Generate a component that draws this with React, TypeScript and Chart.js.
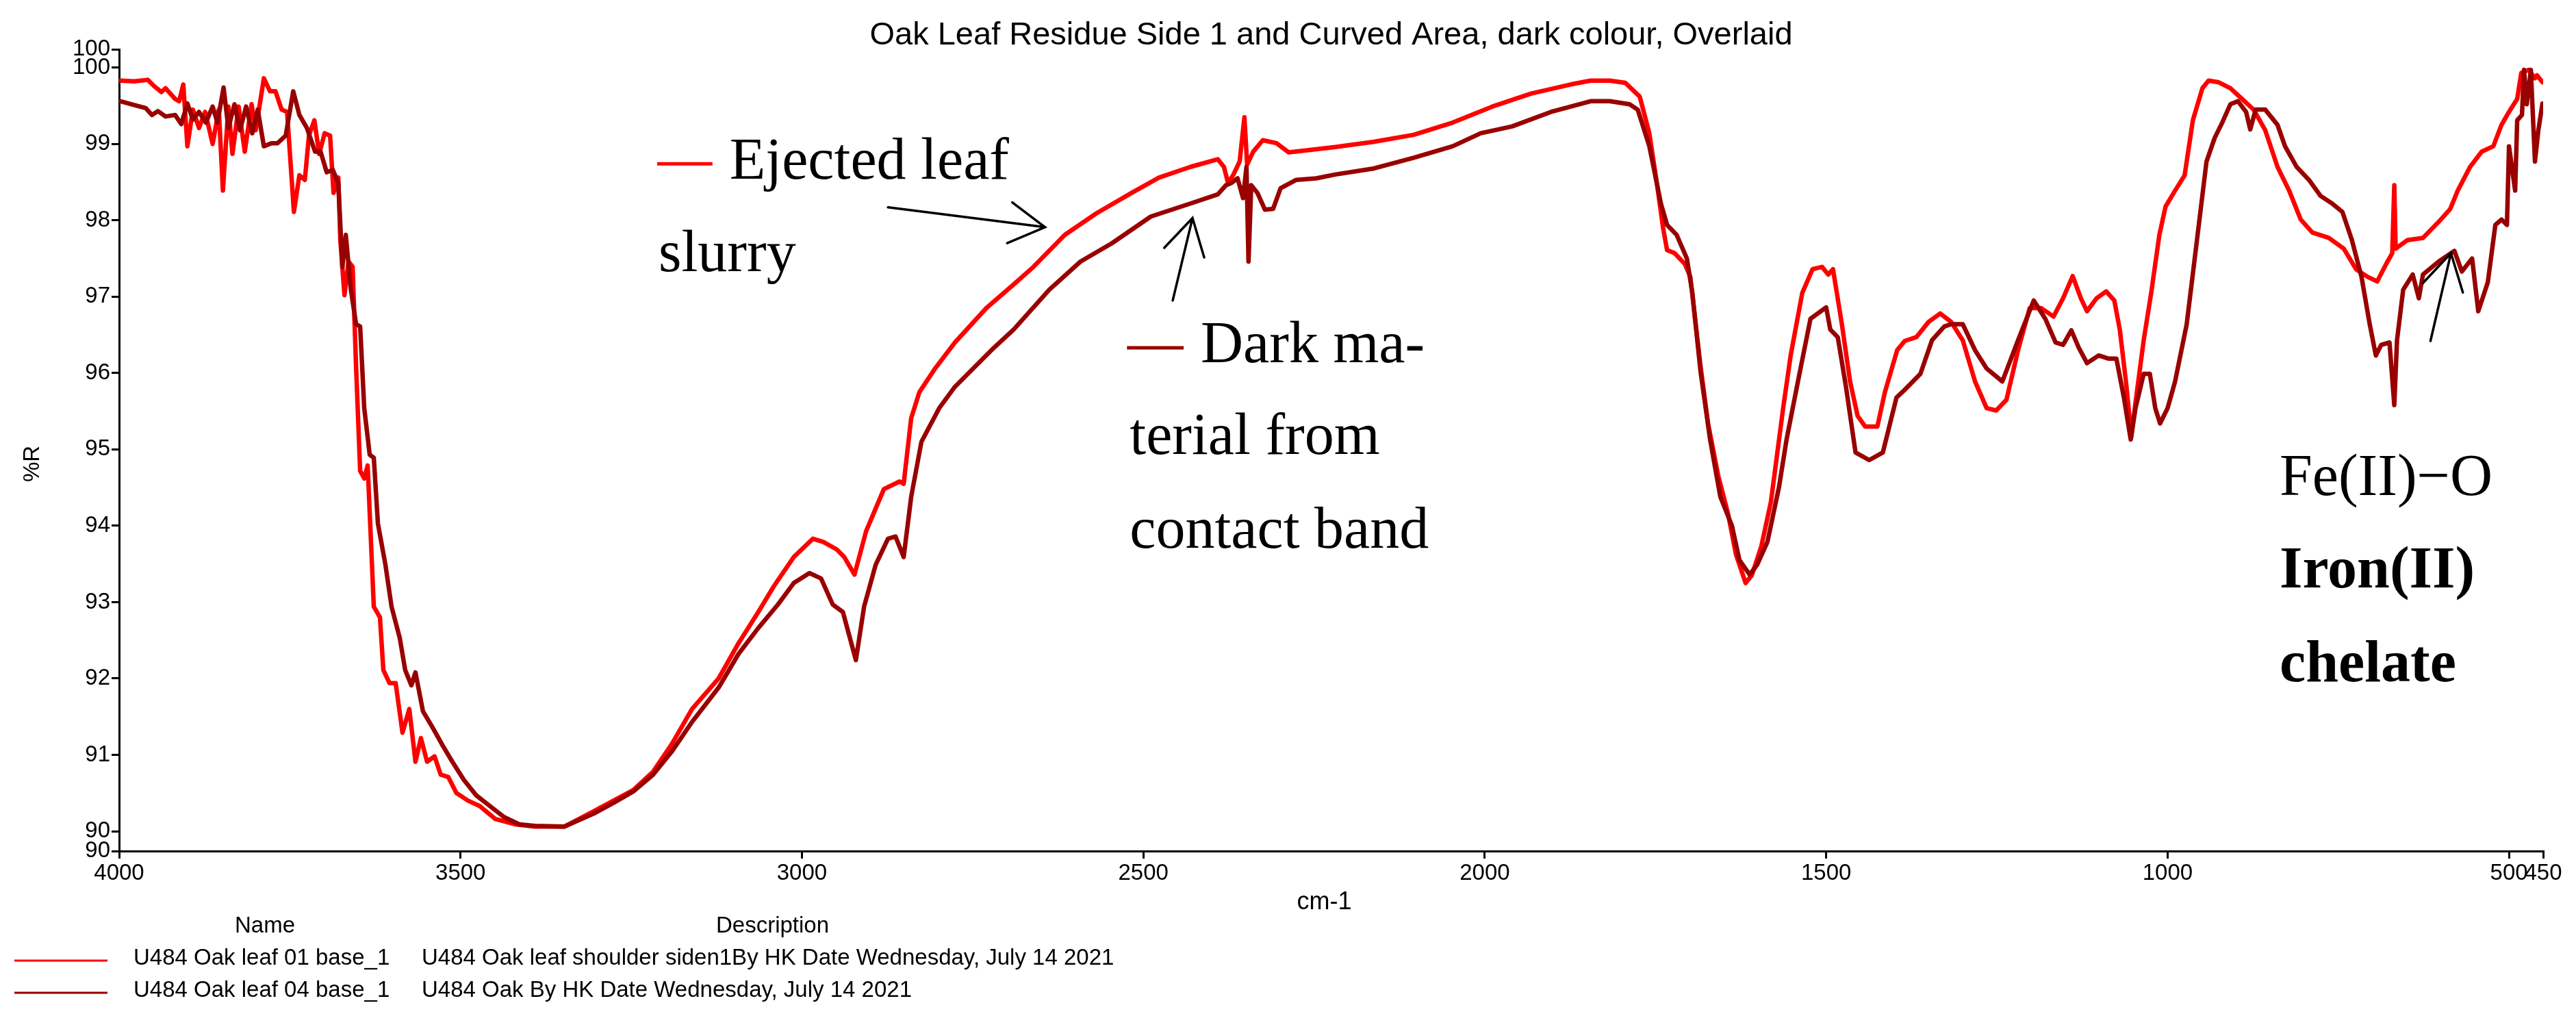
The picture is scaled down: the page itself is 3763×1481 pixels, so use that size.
import React, { useEffect, useRef } from "react";
import { Chart, registerables } from "chart.js";

Chart.register(...registerables);

const chartTitle = "Oak Leaf Residue Side 1 and Curved Area, dark colour, Overlaid";
const xAxisTitle = "cm-1";
const yAxisTitle = "%R";

const xTickValues = [4000, 3500, 3000, 2500, 2000, 1500, 1000, 500, 450];
const yTickValues = [89.74, 90, 91, 92, 93, 94, 95, 96, 97, 98, 99, 100, 100.24];
const yTickLabels = ["90", "90", "91", "92", "93", "94", "95", "96", "97", "98", "99", "100", "100"];

const legendNames = ["U484 Oak leaf 01 base_1", "U484 Oak leaf 04 base_1"];
const legendDescriptions = [
  "U484 Oak leaf shoulder siden1By HK Date Wednesday, July 14 2021",
  "U484 Oak By HK Date Wednesday, July 14 2021",
];
const seriesColors = ["#ff0000", "#990000"];

// Series 1: Ejected leaf slurry (red)
const redWn = [
  3998, 3978, 3958, 3949, 3938, 3932, 3918, 3912, 3906, 3900, 3892, 3883, 3874, 3863, 3854, 3848, 3840, 3834, 3825, 3816,
  3806, 3800, 3788, 3779, 3771, 3762, 3754, 3744, 3736, 3728, 3722, 3714, 3707, 3699, 3691, 3686, 3679, 3676, 3670, 3664,
  3658, 3653, 3647, 3641, 3636, 3627, 3618, 3613, 3604, 3595, 3585, 3575, 3566, 3558, 3549, 3538, 3529, 3518, 3506, 3489,
  3472, 3449, 3420, 3391, 3348, 3305, 3276, 3247, 3218, 3190, 3161, 3122, 3093, 3064, 3041, 3012, 2984, 2969, 2949, 2938,
  2923, 2906, 2880, 2857, 2851, 2840, 2828, 2805, 2776, 2730, 2690, 2661, 2615, 2569, 2517, 2477, 2431, 2391, 2382, 2376,
  2368, 2359, 2352, 2348, 2339, 2325, 2305, 2287, 2258, 2219, 2162, 2104, 2047, 1989, 1932, 1874, 1845, 1817, 1794, 1773,
  1759, 1748, 1739, 1733, 1722, 1707, 1699, 1684, 1673, 1658, 1644, 1632, 1618, 1609, 1595, 1581, 1563, 1552, 1535, 1520,
  1506, 1497, 1490, 1477, 1465, 1454, 1443, 1425, 1414, 1396, 1385, 1368, 1350, 1333, 1317, 1300, 1282, 1265, 1251, 1236,
  1219, 1202, 1185, 1167, 1153, 1139, 1127, 1118, 1104, 1090, 1078, 1070, 1061, 1053, 1047, 1035, 1024, 1012, 1003, 989,
  975, 963, 949, 940, 926, 908, 891, 874, 857, 839, 822, 805, 788, 764, 742, 724, 707, 693, 678, 671,
  668, 666, 649, 626, 603, 586, 575, 557, 540, 523, 511, 500, 488, 482, 471, 462, 459, 451,
];
const redR = [
  99.83, 99.82, 99.84, 99.76, 99.68, 99.73, 99.59, 99.56, 99.78, 98.97, 99.45, 99.21, 99.42, 99.0, 99.45, 98.39, 99.49, 98.87, 99.49, 98.9,
  99.52, 99.18, 99.86, 99.69, 99.69, 99.45, 99.42, 98.11, 98.59, 98.53, 99.11, 99.31, 98.87, 99.14, 99.11, 98.36, 98.56, 97.74, 97.02, 97.46,
  97.39, 96.09, 94.72, 94.62, 94.79, 92.94, 92.8, 92.11, 91.94, 91.94, 91.29, 91.6, 90.91, 91.22, 90.91, 90.98, 90.74, 90.71, 90.5, 90.4,
  90.33, 90.16, 90.09, 90.06, 90.06, 90.26, 90.4, 90.54, 90.78, 91.15, 91.6, 92.0, 92.46, 92.87, 93.21, 93.59, 93.83, 93.79, 93.69, 93.59,
  93.36, 93.93, 94.48, 94.58, 94.55, 95.41, 95.75, 96.06, 96.4, 96.85, 97.16, 97.39, 97.81, 98.09, 98.36, 98.56, 98.7, 98.8, 98.7, 98.49,
  98.6, 98.77, 99.35, 98.73, 98.9, 99.05, 99.01, 98.89, 98.92, 98.96, 99.03, 99.12, 99.28, 99.49, 99.66, 99.78, 99.83, 99.83, 99.8, 99.62,
  99.14, 98.49, 97.91, 97.61, 97.57, 97.43, 97.26, 96.09, 95.34, 94.65, 94.17, 93.62, 93.25, 93.35, 93.73, 94.31, 95.54, 96.23, 97.05, 97.36,
  97.39, 97.29, 97.36, 96.64, 95.89, 95.44, 95.3, 95.3, 95.75, 96.3, 96.42, 96.47, 96.67, 96.78, 96.67, 96.43, 95.89, 95.54, 95.51, 95.65,
  96.3, 96.85, 96.85, 96.74, 96.98, 97.27, 96.98, 96.81, 96.98, 97.07, 96.95, 96.57, 95.89, 95.17, 95.61, 96.43, 97.05, 97.81, 98.18, 98.39,
  98.59, 99.31, 99.73, 99.83, 99.81, 99.73, 99.59, 99.45, 99.18, 98.7, 98.39, 98.01, 97.84, 97.77, 97.63, 97.36, 97.26, 97.2, 97.46, 97.57,
  98.46, 97.63, 97.74, 97.77, 97.98, 98.15, 98.39, 98.7, 98.9, 98.97, 99.25, 99.42, 99.59, 99.93, 99.97, 99.86, 99.9, 99.81,
];

// Series 2: Dark material from contact band (dark red)
const darkWn = [
  3998, 3978, 3961, 3952, 3943, 3932, 3918, 3909, 3900, 3892, 3883, 3873, 3863, 3856, 3847, 3840, 3831, 3823, 3814, 3805,
  3797, 3788, 3777, 3768, 3756, 3745, 3736, 3725, 3713, 3705, 3696, 3687, 3679, 3673, 3668, 3661, 3653, 3647, 3641, 3633,
  3627, 3621, 3610, 3601, 3589, 3581, 3572, 3566, 3555, 3541, 3526, 3512, 3495, 3477, 3457, 3437, 3414, 3391, 3348, 3305,
  3276, 3247, 3218, 3190, 3161, 3122, 3093, 3064, 3035, 3012, 2989, 2972, 2955, 2940, 2921, 2909, 2892, 2874, 2863, 2851,
  2840, 2825, 2799, 2776, 2719, 2690, 2638, 2592, 2546, 2489, 2431, 2391, 2379, 2371, 2362, 2354, 2349, 2346, 2342, 2333,
  2322, 2310, 2299, 2276, 2247, 2219, 2162, 2104, 2047, 2006, 1960, 1903, 1845, 1817, 1788, 1776, 1759, 1742, 1733, 1719,
  1704, 1696, 1684, 1670, 1655, 1638, 1627, 1612, 1601, 1586, 1569, 1558, 1540, 1523, 1500, 1494, 1483, 1471, 1457, 1437,
  1417, 1397, 1385, 1362, 1345, 1327, 1317, 1300, 1282, 1265, 1242, 1219, 1196, 1179, 1164, 1153, 1141, 1130, 1118, 1101,
  1087, 1075, 1064, 1054, 1047, 1035, 1026, 1018, 1011, 1000, 989, 972, 957, 943, 931, 920, 908, 897, 885, 879,
  871, 857, 839, 828, 811, 793, 776, 759, 744, 730, 716, 704, 695, 687, 675, 668, 664, 655, 641, 632,
  626, 603, 580, 569, 554, 545, 531, 520, 511, 503, 500, 491, 488, 481, 478, 474, 468, 462, 457, 451,
];
const darkR = [
  99.56, 99.51, 99.47, 99.38, 99.43, 99.36, 99.38, 99.26, 99.53, 99.32, 99.42, 99.28, 99.49, 99.28, 99.74, 99.21, 99.52, 99.18, 99.49, 99.14,
  99.45, 98.97, 99.01, 99.01, 99.11, 99.69, 99.38, 99.21, 98.9, 98.9, 98.63, 98.66, 98.49, 97.39, 97.81, 97.12, 96.64, 96.61, 95.54, 94.93,
  94.89, 94.03, 93.49, 92.94, 92.53, 92.11, 91.91, 92.08, 91.57, 91.36, 91.12, 90.91, 90.67, 90.47, 90.33, 90.19, 90.09, 90.07, 90.06, 90.23,
  90.37, 90.52, 90.74, 91.05, 91.43, 91.88, 92.32, 92.66, 92.97, 93.25, 93.38, 93.31, 92.97, 92.87, 92.24, 92.94, 93.49, 93.83, 93.86, 93.59,
  94.38, 95.1, 95.54, 95.82, 96.33, 96.57, 97.09, 97.46, 97.7, 98.05, 98.22, 98.34, 98.46, 98.49, 98.55, 98.29, 98.7, 97.46, 98.46, 98.36,
  98.14, 98.15, 98.42, 98.53, 98.55, 98.6, 98.68, 98.82, 98.97, 99.14, 99.23, 99.42, 99.56, 99.56, 99.52, 99.45, 98.97, 98.22, 97.94, 97.81,
  97.5, 97.05, 96.02, 95.13, 94.38, 94.0, 93.55, 93.36, 93.49, 93.79, 94.51, 95.13, 95.95, 96.71, 96.86, 96.57, 96.47, 95.82, 94.96, 94.86,
  94.96, 95.68, 95.78, 95.99, 96.43, 96.61, 96.64, 96.64, 96.3, 96.06, 95.89, 96.43, 96.95, 96.71, 96.4, 96.37, 96.56, 96.33, 96.13, 96.23,
  96.19, 96.19, 95.68, 95.13, 95.54, 95.99, 95.99, 95.54, 95.34, 95.54, 95.89, 96.64, 97.74, 98.77, 99.08, 99.28, 99.52, 99.56, 99.42, 99.19,
  99.45, 99.45, 99.25, 98.97, 98.7, 98.53, 98.32, 98.22, 98.11, 97.74, 97.26, 96.64, 96.23, 96.37, 96.4, 95.58, 96.43, 97.09, 97.29, 96.98,
  97.29, 97.46, 97.6, 97.33, 97.5, 96.81, 97.19, 97.94, 98.01, 97.94, 98.97, 98.39, 99.31, 99.38, 99.97, 99.52, 99.97, 98.77, 99.18, 99.53,
];

const SANS = '"Liberation Sans", Arial, Helvetica, sans-serif';
const SERIF = '"Liberation Serif", "Times New Roman", serif';

// annotation anchors in data units (wavenumber, %R)
const arrowSpecs = [
  { from: [2874, 98.17], to: [2644, 97.91] },
  { from: [2457, 96.95], to: [2428, 98.03] },
  { from: [615, 96.42], to: [585, 97.57] },
];
const annotationTexts = [
  { text: "Ejected leaf", x: 3106, y: 98.543, bold: false },
  { text: "slurry", x: 3210, y: 97.333, bold: false },
  { text: "Dark ma-", x: 2416, y: 96.142, bold: false },
  { text: "terial from", x: 2520, y: 94.941, bold: false },
  { text: "contact band", x: 2520, y: 93.713, bold: false },
  { text: "Fe(II)\u2212O", x: 836, y: 94.403, bold: false },
  { text: "Iron(II)", x: 836, y: 93.194, bold: true },
  { text: "chelate", x: 836, y: 91.966, bold: true },
];
const annotationDashes = [
  { x1: 3212, x2: 3131, y: 98.74, color: 0 },
  { x1: 2524, x2: 2441, y: 96.33, color: 1 },
];

const overlayPlugin = {
  id: "overlay",
  afterDraw(chart: any) {
    const ctx = chart.ctx as CanvasRenderingContext2D;
    const xs = chart.scales.x;
    const ys = chart.scales.y;
    const area = chart.chartArea;
    ctx.save();
    ctx.fillStyle = "#000";
    // title
    ctx.font = `47px ${SANS}`;
    ctx.textAlign = "center";
    ctx.textBaseline = "alphabetic";
    ctx.fillText(chartTitle, (area.left + area.right) / 2, 65);
    // x axis title
    ctx.font = `36px ${SANS}`;
    ctx.fillText(xAxisTitle, (area.left + area.right) / 2 - 10, 1328);
    // y axis title
    ctx.save();
    ctx.translate(48, (area.top + area.bottom) / 2 + 20);
    ctx.rotate(-Math.PI / 2);
    ctx.textBaseline = "middle";
    ctx.font = `33px ${SANS}`;
    ctx.fillText(yAxisTitle, 0, 0);
    ctx.restore();

    // legend table
    ctx.font = `33px ${SANS}`;
    ctx.textAlign = "left";
    ctx.fillText("Name", 343, 1362);
    ctx.fillText("Description", 1046, 1362);
    for (let i = 0; i < legendNames.length; i++) {
      const yLine = 1403 + i * 47;
      ctx.strokeStyle = seriesColors[i];
      ctx.lineWidth = 3;
      ctx.beginPath();
      ctx.moveTo(21, yLine);
      ctx.lineTo(157, yLine);
      ctx.stroke();
      ctx.fillStyle = "#000";
      ctx.fillText(legendNames[i], 195, yLine + 6);
      ctx.fillText(legendDescriptions[i], 616, yLine + 6);
    }

    // annotation dashes
    for (const d of annotationDashes) {
      ctx.strokeStyle = seriesColors[d.color];
      ctx.lineWidth = 5;
      ctx.beginPath();
      ctx.moveTo(xs.getPixelForValue(d.x1), ys.getPixelForValue(d.y));
      ctx.lineTo(xs.getPixelForValue(d.x2), ys.getPixelForValue(d.y));
      ctx.stroke();
    }
    // annotation texts
    ctx.fillStyle = "#000";
    ctx.textAlign = "left";
    ctx.textBaseline = "alphabetic";
    for (const t of annotationTexts) {
      ctx.font = `${t.bold ? "bold " : ""}86px ${SERIF}`;
      ctx.fillText(t.text, xs.getPixelForValue(t.x), ys.getPixelForValue(t.y));
    }
    // arrows
    ctx.strokeStyle = "#000";
    ctx.lineWidth = 3.5;
    ctx.lineCap = "round";
    for (const a of arrowSpecs) {
      const x1 = xs.getPixelForValue(a.from[0]);
      const y1 = ys.getPixelForValue(a.from[1]);
      const x2 = xs.getPixelForValue(a.to[0]);
      const y2 = ys.getPixelForValue(a.to[1]);
      const ang = Math.atan2(y2 - y1, x2 - x1);
      const L = 60;
      const h = Math.PI / 6;
      ctx.beginPath();
      ctx.moveTo(x1, y1);
      ctx.lineTo(x2, y2);
      ctx.moveTo(x2 - L * Math.cos(ang - h), y2 - L * Math.sin(ang - h));
      ctx.lineTo(x2, y2);
      ctx.lineTo(x2 - L * Math.cos(ang + h), y2 - L * Math.sin(ang + h));
      ctx.stroke();
    }
    ctx.restore();
  },
};

export default function App() {
  const canvasRef = useRef<HTMLCanvasElement | null>(null);

  useEffect(() => {
    document.body.style.margin = "0";
    const canvas = canvasRef.current;
    if (!canvas) return;
    const redPts = redWn.map((x, i) => ({ x, y: redR[i] }));
    const darkPts = darkWn.map((x, i) => ({ x, y: darkR[i] }));
    const tickFont = { family: SANS, size: 33 };
    const chart = new Chart(canvas, {
      type: "line",
      data: {
        datasets: [
          {
            label: legendNames[1],
            data: darkPts,
            borderColor: seriesColors[1],
            borderWidth: 6.5,
            borderJoinStyle: "round",
            borderCapStyle: "round",
            pointRadius: 0,
            tension: 0,
            fill: false,
            order: 0,
          },
          {
            label: legendNames[0],
            data: redPts,
            borderColor: seriesColors[0],
            borderWidth: 6.5,
            borderJoinStyle: "round",
            borderCapStyle: "round",
            pointRadius: 0,
            tension: 0,
            fill: false,
            order: 1,
          },
        ],
      },
      options: {
        animation: false,
        responsive: false,
        maintainAspectRatio: false,
        events: [],
        layout: { padding: { left: 0, right: 48, top: 72, bottom: 0 } },
        plugins: {
          legend: { display: false },
          title: { display: false },
          tooltip: { enabled: false },
        },
        scales: {
          x: {
            type: "linear",
            reverse: true,
            min: 450,
            max: 4000,
            afterBuildTicks: (s: any) => {
              s.ticks = xTickValues.map((v) => ({ value: v }));
            },
            afterFit: (s: any) => {
              s.height = 238;
            },
            ticks: {
              autoSkip: false,
              maxRotation: 0,
              minRotation: 0,
              color: "#000",
              font: tickFont,
              padding: 2,
              callback: (v: any) => String(v),
            },
            grid: {
              display: true,
              drawOnChartArea: false,
              drawTicks: true,
              tickLength: 11,
              color: "#000",
              lineWidth: 3,
            },
            border: { display: true, color: "#000", width: 3 },
          },
          y: {
            type: "linear",
            min: 89.74,
            max: 100.24,
            afterBuildTicks: (s: any) => {
              s.ticks = yTickValues.map((v) => ({ value: v }));
            },
            afterFit: (s: any) => {
              s.width = 174;
            },
            ticks: {
              autoSkip: false,
              color: "#000",
              font: tickFont,
              padding: 2,
              callback: (_v: any, i: number) => yTickLabels[i],
            },
            grid: {
              display: true,
              drawOnChartArea: false,
              drawTicks: true,
              tickLength: 11,
              color: "#000",
              lineWidth: 3,
            },
            border: { display: true, color: "#000", width: 3 },
          },
        },
      } as any,
      plugins: [overlayPlugin],
    });
    return () => {
      chart.destroy();
    };
  }, []);

  return (
    <div style={{ position: "absolute", left: 0, top: 0, width: 3763, height: 1481, background: "#fff" }}>
      <canvas ref={canvasRef} width={3763} height={1481} style={{ display: "block", width: 3763, height: 1481 }} />
    </div>
  );
}
